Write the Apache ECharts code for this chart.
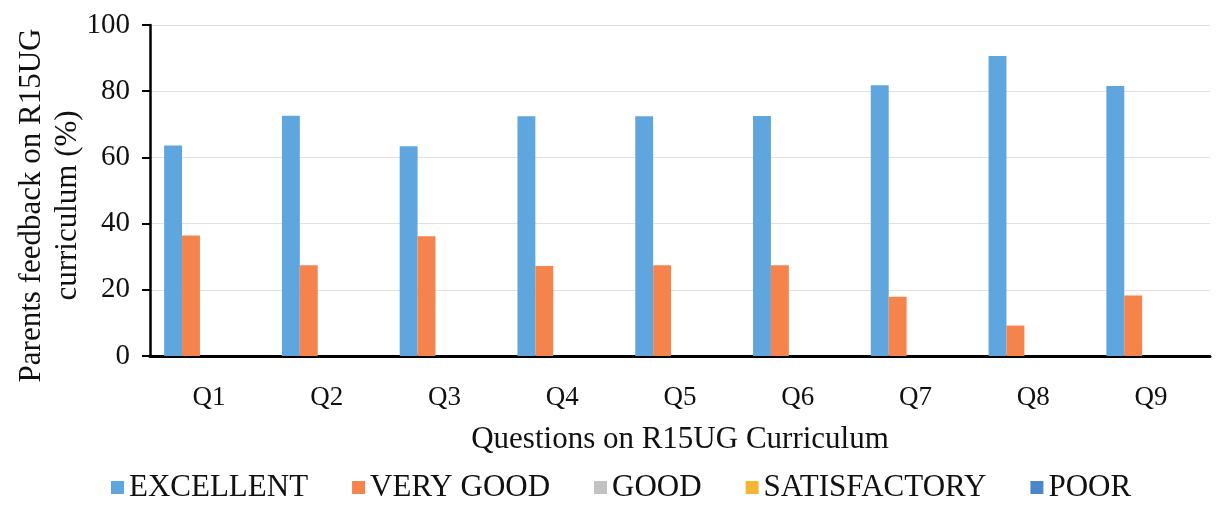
<!DOCTYPE html>
<html>
<head>
<meta charset="utf-8">
<script src="https://cdn.jsdelivr.net/npm/echarts@6/dist/echarts.min.js"></script>
<style>
html,body{margin:0;padding:0;background:#fff;}
#chart{width:1216px;height:528px;}
</style>
</head>
<body>
<div id="chart"></div>
<script>
const categories = ['Q1','Q2','Q3','Q4','Q5','Q6','Q7','Q8','Q9'];
const seriesNames = ['EXCELLENT','VERY GOOD','GOOD','SATISFACTORY','POOR'];
const excellent = [63.6, 72.6, 63.4, 72.4, 72.4, 72.5, 81.8, 90.6, 81.6];
const veryGood = [36.4, 27.4, 36.2, 27.2, 27.4, 27.4, 17.9, 9.2, 18.3];
const good = [0, 0, 0, 0, 0, 0, 0, 0, 0];
const satisfactory = [0, 0, 0, 0, 0, 0, 0, 0, 0];
const poor = [0, 0, 0, 0, 0, 0, 0, 0, 0];
const yTicks = [0, 20, 40, 60, 80, 100];

const colors = ['#5fa6df', '#f5834c', '#c2c2c2', '#f7b534', '#4a86c8'];
const dataSets = [excellent, veryGood, good, satisfactory, poor];
const font = '"Liberation Serif", "DejaVu Serif", serif';

const chart = echarts.init(document.getElementById('chart'));
chart.setOption({
  backgroundColor: '#ffffff',
  animation: false,
  color: colors,
  textStyle: { fontFamily: font, color: '#111' },
  grid: { left: 150, right: 6, top: 25, bottom: 172, containLabel: false, outerBoundsMode: 'none' },
  legend: {
    data: seriesNames,
    bottom: 20,
    left: 106,
    icon: 'rect',
    itemWidth: 13,
    itemHeight: 13,
    itemGap: 44,
    textStyle: { fontFamily: font, fontSize: 31, color: '#111' }
  },
  xAxis: {
    type: 'category',
    data: categories,
    name: 'Questions on R15UG Curriculum',
    nameLocation: 'middle',
    nameGap: 68,
    nameMoveOverlap: false,
    nameTextStyle: { fontFamily: font, fontSize: 31, color: '#111' },
    axisLine: { lineStyle: { color: '#000', width: 3 } },
    axisTick: { show: false },
    axisLabel: { fontFamily: font, fontSize: 27, color: '#111', margin: 28 }
  },
  yAxis: {
    type: 'value',
    min: 0,
    max: 100,
    interval: 20,
    name: 'Parents feedback on R15UG\ncurriculum (%)',
    nameLocation: 'middle',
    nameRotate: 90,
    nameGap: 64,
    nameMoveOverlap: false,
    nameTextStyle: { fontFamily: font, fontSize: 31, color: '#111', lineHeight: 36, padding: [0, 30, 0, 0] },
    axisLine: { show: true, lineStyle: { color: '#000', width: 2.5 } },
    axisTick: { show: true, length: 8, lineStyle: { color: '#000', width: 2 } },
    axisLabel: {
      fontFamily: font, fontSize: 29, color: '#111', margin: 20,
      formatter: function (v) { return yTicks.indexOf(v) >= 0 ? String(v) : ''; }
    },
    splitLine: { show: true, lineStyle: { color: '#e8dde0', width: 1 } }
  },
  series: seriesNames.map(function (name, i) {
    return {
      name: name,
      type: 'bar',
      data: dataSets[i],
      barGap: '0%',
      barCategoryGap: '24%',
      itemStyle: { color: colors[i] }
    };
  })
});
</script>
</body>
</html>
